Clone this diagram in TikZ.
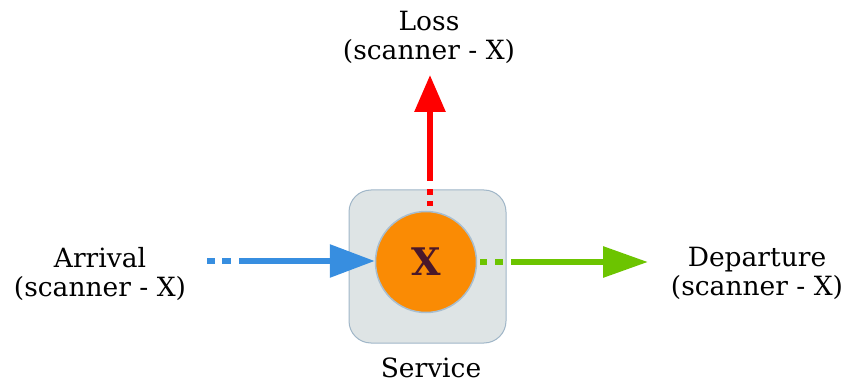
\documentclass[tikz,border=0pt]{standalone}
\usepackage{fontspec}
\setmainfont{DejaVu Serif}
\usetikzlibrary{arrows.meta}
\definecolor{boxfill}{RGB}{222,228,229}
\definecolor{boxline}{RGB}{160,182,200}
\definecolor{servorange}{RGB}{250,139,4}
\definecolor{ringline}{RGB}{168,190,208}
\definecolor{xmaroon}{RGB}{74,24,42}
\definecolor{arrblue}{RGB}{55,142,224}
\definecolor{lossred}{RGB}{255,0,0}
\definecolor{depgreen}{RGB}{108,196,0}
\tikzset{
  label/.style={align=center, font=\fontsize{26.5}{29}\selectfont, inner sep=0pt},
  flow/.style={line width=6pt, line cap=butt},
}
\begin{document}
\begin{tikzpicture}[x=1pt, y=-1pt]
  \useasboundingbox (0,0) rectangle (847,385);
  % service station
  \node[draw=boxline, fill=boxfill, line width=1pt, rounded corners=22pt,
        minimum width=157pt, minimum height=153pt, inner sep=0pt] (box) at (427.5,266.5) {};
  \node[circle, draw=ringline, fill=servorange, line width=1.5pt,
        minimum size=101pt, inner sep=0pt] (c) at (426,262)
        {\fontsize{38}{38}\selectfont\bfseries\color{xmaroon}X};
  % labels
  \node[label] (loss) at (429,37) {Loss\\(scanner - X)};
  \node[label] (arr) at (100,274) {Arrival\\(scanner - X)};
  \node[label] (dep) at (757,273) {Departure\\(scanner - X)};
  \node[label, anchor=base] (serv) at (431,377) {Service};
  % flow end points
  \coordinate (arrsrc) at (207,261);
  \coordinate (losstip) at (430,75);
  \coordinate (deptip) at (648,262);
  % arrival flow
  \draw[flow, arrblue, dash pattern=on 8pt off 7pt on 9pt off 8pt on 600pt,
        -{Triangle[length=45pt, width=32pt]}] (arrsrc) -- (arrsrc -| c.west);
  % loss flow
  \draw[flow, lossred, dash pattern=on 0pt off 5pt on 5pt off 6pt on 6pt off 8pt on 600pt,
        -{Triangle[length=37pt, width=30pt]}] (losstip |- c.north) -- (losstip);
  % departure flow
  \draw[flow, depgreen, dash pattern=on 0pt off 3pt on 7pt off 8pt on 8pt off 8pt on 600pt,
        -{Triangle[length=45pt, width=30pt]}] (c.east) -- (deptip);
\end{tikzpicture}
\end{document}
